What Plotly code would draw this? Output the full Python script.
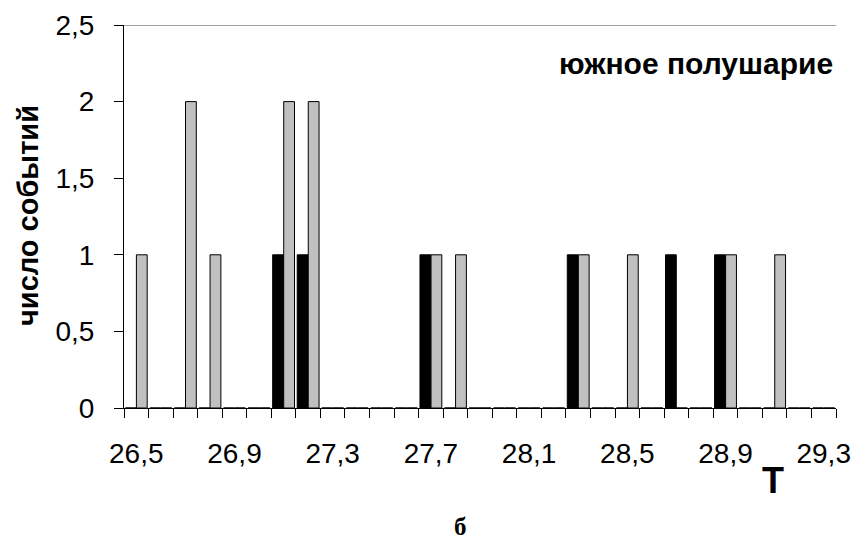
import plotly.graph_objects as go

categories = [round(26.5 + 0.1 * i, 1) for i in range(29)]
black_vals = {27.1: 1, 27.2: 1, 27.7: 1, 28.3: 1, 28.7: 1, 28.9: 1}
gray_vals = {26.5: 1, 26.7: 2, 26.8: 1, 27.1: 2, 27.2: 2, 27.7: 1, 27.8: 1,
             28.3: 1, 28.5: 1, 28.9: 1, 29.1: 1}
series_black = [black_vals.get(c, 0) for c in categories]
series_gray = [gray_vals.get(c, 0) for c in categories]
x_tick_vals = [26.5, 26.9, 27.3, 27.7, 28.1, 28.5, 28.9, 29.3]
y_tick_vals = [0, 0.5, 1, 1.5, 2, 2.5]

FONT = "Liberation Sans, Arial, sans-serif"

fig = go.Figure()
fig.add_trace(go.Bar(x=categories, y=series_black, width=0.044,
                     marker=dict(color="black", line=dict(color="black", width=1)),
                     offsetgroup="a", showlegend=False))
fig.add_trace(go.Bar(x=categories, y=series_gray, width=0.044,
                     marker=dict(color="#C0C0C0", line=dict(color="black", width=1)),
                     offsetgroup="b", showlegend=False))

L, R, T, B = 124, 16, 25, 134
W, H = 852, 542
pw, ph = W - L - R, H - T - B

def px(x):
    return (x - L) / pw

def py(y):
    return (T + ph - y) / ph

def ann(text, x, y, size, family=FONT, angle=0):
    return dict(text=text, xref="paper", yref="paper", x=px(x), y=py(y),
                xanchor="center", yanchor="middle", textangle=angle,
                showarrow=False, font=dict(size=size, family=family, color="black"))

fig.update_layout(
    width=W, height=H,
    margin=dict(l=L, r=R, t=T, b=B, autoexpand=False),
    paper_bgcolor="white", plot_bgcolor="white",
    barmode="group", bargap=0.1, bargroupgap=0,
    separators=", ",
    font=dict(family=FONT, color="black", size=28),
    xaxis=dict(range=[26.45, 29.35], tickvals=x_tick_vals,
               ticktext=[f"{v:.1f}".replace(".", ",") for v in x_tick_vals],
               ticks="", showgrid=False, zeroline=False, automargin=False,
               showline=True, linecolor="black", linewidth=1,
               ticklabelstandoff=20,
               tickfont=dict(size=28, family=FONT),
               minor=dict(tick0=26.45, dtick=0.1, ticks="outside", ticklen=9,
                          tickcolor="black", tickwidth=1, showgrid=False)),
    yaxis=dict(range=[0, 2.5], tickvals=y_tick_vals, ticks="outside", ticklen=9,
               tickcolor="black", showgrid=False, zeroline=False, automargin=False,
               showline=True, linecolor="black", linewidth=1,
               ticklabelstandoff=14,
               tickfont=dict(size=28, family=FONT)),
    shapes=[dict(type="line", xref="paper", yref="y", x0=0, x1=1, y0=2.5, y1=2.5,
                 line=dict(color="#A0A0A0", width=2))],
    annotations=[
        ann("<b>число событий</b>", 28, 216, 29, angle=-90),
        ann("<b>южное полушарие</b>", 696, 64, 30),
        ann("<b>T</b>", 773, 480, 36),
        ann("<b>б</b>", 460, 526, 25, family="Liberation Serif, Times New Roman, serif"),
    ],
)

fig.write_html("out.html", config={"displayModeBar": False},
               post_script="document.body.style.margin='0';document.body.style.overflow='hidden';")
